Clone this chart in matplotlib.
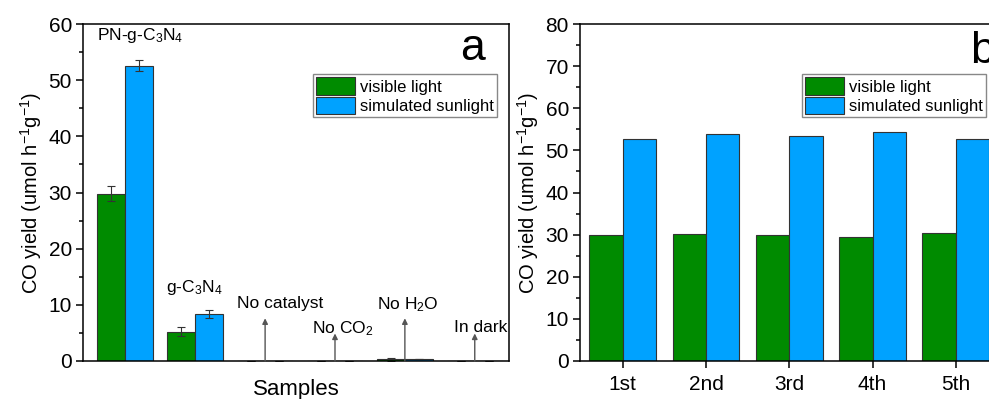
import numpy as np
import matplotlib
matplotlib.use('Agg')
import matplotlib.pyplot as plt
from matplotlib.ticker import MultipleLocator

plt.rcParams['font.family'] = ['Liberation Sans', 'DejaVu Sans']
plt.rcParams['mathtext.default'] = 'regular'

# Panel a: control experiments
samples = ['PN-g-C$_3$N$_4$', 'g-C$_3$N$_4$', 'No catalyst', 'No CO$_2$',
           'No H$_2$O', 'In dark']
vis_a = [29.8, 5.2, 0.05, 0.05, 0.3, 0.05]
vis_a_err = [1.4, 0.8, 0.0, 0.0, 0.25, 0.0]
sun_a = [52.6, 8.3, 0.05, 0.05, 0.35, 0.05]
sun_a_err = [1.0, 0.7, 0.0, 0.0, 0.0, 0.0]
arrow_tips = [None, None, 7.6, 4.9, 7.6, 4.9]
label_y = [57.2, 12.3, 9.4, 5.0, 9.2, 5.1]

# Panel b: recycling runs
runs = ['1st', '2nd', '3rd', '4th', '5th']
vis_b = [29.8, 30.1, 29.9, 29.5, 30.5]
sun_b = [52.6, 53.8, 53.5, 54.4, 52.8]

GREEN = '#008B00'
BLUE = '#00A2FF'
W = 0.4

fig = plt.figure(figsize=(9.89, 3.99), dpi=100)
ax1 = fig.add_axes([83 / 989, 1 - 361 / 399, 426 / 989, 337 / 399])
ax2 = fig.add_axes([580 / 989, 1 - 361 / 399, 418 / 989, 337 / 399])


def style_axis(ax):
    for sp in ax.spines.values():
        sp.set_linewidth(1.1)
    ax.tick_params(axis='y', which='major', direction='out', length=5,
                   width=1.1, labelsize=15, right=False, pad=3)
    ax.tick_params(axis='y', which='minor', direction='out', length=3,
                   width=1.1, right=False)
    ax.yaxis.set_minor_locator(MultipleLocator(5))
    ax.yaxis.set_major_locator(MultipleLocator(10))
    ax.set_ylabel('CO yield (umol h$^{-1}$g$^{-1}$)', fontsize=14.5,
                  labelpad=3)


def add_legend(ax, x0):
    leg = ax.legend(loc='upper left', bbox_to_anchor=(x0, 0.852),
                    borderaxespad=0, fontsize=12, fancybox=False,
                    edgecolor='#888888', framealpha=1, handlelength=2.3,
                    handleheight=1.25, labelspacing=0.1,
                    handletextpad=0.3, borderpad=0.2)
    leg.get_frame().set_linewidth(1.0)


# ---- panel a ----
xa = np.arange(1, len(samples) + 1)
ax1.bar(xa - W / 2, vis_a, W, color=GREEN, edgecolor='#333333',
        linewidth=0.8, label='visible light')
ax1.bar(xa + W / 2, sun_a, W, color=BLUE, edgecolor='#333333',
        linewidth=0.8, label='simulated sunlight')
ax1.errorbar(xa - W / 2, vis_a, yerr=vis_a_err, fmt='none', ecolor='#333333',
             elinewidth=0.8, capsize=3, capthick=0.8)
ax1.errorbar(xa + W / 2, sun_a, yerr=sun_a_err, fmt='none', ecolor='#333333',
             elinewidth=0.8, capsize=3, capthick=0.8)

label_x = [xa[0] - W, xa[1] - W - 0.02, xa[2] - W, xa[3] - 0.33,
           xa[4] - W, xa[5] - 0.3]
for i, name in enumerate(samples):
    ax1.text(label_x[i], label_y[i], name, fontsize=12.5, ha='left',
             va='baseline')
    if arrow_tips[i] is not None:
        ax1.annotate('', xy=(xa[i], arrow_tips[i]), xytext=(xa[i], 0),
                     arrowprops=dict(arrowstyle='-|>', color='#555555',
                                     lw=1.0, mutation_scale=8,
                                     shrinkA=0, shrinkB=0))

ax1.set_xlim(0.394, 6.49)
ax1.set_ylim(0, 60)
ax1.set_xticks([])
ax1.set_xlabel('Samples', fontsize=16, labelpad=13)
style_axis(ax1)
ax1.text(0.915, 0.893, 'a', transform=ax1.transAxes, fontsize=32,
         ha='center', va='baseline')
add_legend(ax1, 0.54)

# ---- panel b ----
xb = np.arange(1, len(runs) + 1)
ax2.bar(xb - W / 2, vis_b, W, color=GREEN, edgecolor='#333333',
        linewidth=0.8, label='visible light')
ax2.bar(xb + W / 2, sun_b, W, color=BLUE, edgecolor='#333333',
        linewidth=0.8, label='simulated sunlight')
ax2.set_xlim(0.487, 5.507)
ax2.set_ylim(0, 80)
ax2.set_xticks(xb)
ax2.set_xticklabels(runs)
ax2.tick_params(axis='x', direction='out', length=5, width=1.1,
                labelsize=15, top=False, pad=5)
style_axis(ax2)
ax2.text(0.933, 0.884, 'b', transform=ax2.transAxes, fontsize=32,
         ha='left', va='baseline')
add_legend(ax2, 0.531)

fig.savefig('out.png', dpi=100)
